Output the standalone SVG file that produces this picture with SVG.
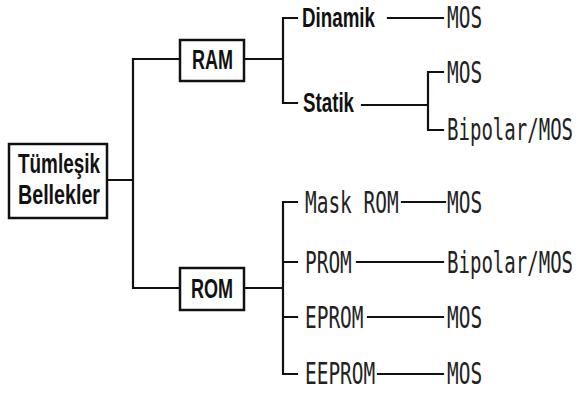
<svg xmlns="http://www.w3.org/2000/svg" width="578" height="396" viewBox="0 0 578 396">
<style>
.box{fill:#fff;stroke:#111;stroke-width:2.5}
.ln{fill:none;stroke:#111;stroke-width:2.2;stroke-linecap:square}
.b{font-family:"Liberation Sans",Arial,sans-serif;font-weight:bold;font-size:27px;fill:#111}
.m{font-family:"DejaVu Sans Mono","Liberation Mono",monospace;font-size:30px;fill:#222}
</style>
<rect width="578" height="396" fill="#fff"/>
<g id="connectors">
<path class="ln" d="M107 180H133M133 59V288M133 59H180M133 288H180"/>
<path class="ln" d="M244 59H283M283 18V103M283 18H297M283 103H297"/>
<path class="ln" d="M244 288H283M283 202V374M283 202H297M283 262H297M283 317H297M283 374H297"/>
<path class="ln" d="M388 18H443"/>
<path class="ln" d="M362 105H428M428 72V130M428 72H443M428 130H443"/>
<path class="ln" d="M402 202H445M357 262H443M368 317H443M378 374H443"/>
</g>
<g id="tumlesik">
<rect class="box" x="9" y="144" width="98" height="74"/>
<text class="b" x="18" y="173" textLength="82" lengthAdjust="spacingAndGlyphs">Tümleşik</text>
<text class="b" x="18" y="204" textLength="82" lengthAdjust="spacingAndGlyphs">Bellekler</text>
</g>
<g id="ram">
<rect class="box" x="180" y="40" width="64" height="41"/>
<text class="b" x="192" y="69" textLength="41" lengthAdjust="spacingAndGlyphs">RAM</text>
</g>
<g id="rom">
<rect class="box" x="180" y="268" width="64" height="42"/>
<text class="b" x="191" y="298" textLength="42" lengthAdjust="spacingAndGlyphs">ROM</text>
</g>
<g id="dinamik"><text class="b" x="302" y="27" textLength="73" lengthAdjust="spacingAndGlyphs">Dinamik</text></g>
<g id="statik"><text class="b" x="303" y="112" textLength="51" lengthAdjust="spacingAndGlyphs">Statik</text></g>
<g id="dinamik-mos"><text class="m" transform="translate(447,28) scale(0.648,1)">MOS</text></g>
<g id="statik-mos"><text class="m" transform="translate(447,83) scale(0.648,1)">MOS</text></g>
<g id="statik-bipolar"><text class="m" transform="translate(447,140) scale(0.635,1)">Bipolar/MOS</text></g>
<g id="maskrom"><text class="m" transform="translate(305,213) scale(0.648,1)">Mask ROM</text></g>
<g id="maskrom-mos"><text class="m" transform="translate(447,213) scale(0.648,1)">MOS</text></g>
<g id="prom"><text class="m" transform="translate(305,273) scale(0.648,1)">PROM</text></g>
<g id="prom-bipolar"><text class="m" transform="translate(447,273) scale(0.635,1)">Bipolar/MOS</text></g>
<g id="eprom"><text class="m" transform="translate(305,328) scale(0.648,1)">EPROM</text></g>
<g id="eprom-mos"><text class="m" transform="translate(447,328) scale(0.648,1)">MOS</text></g>
<g id="eeprom"><text class="m" transform="translate(305,384) scale(0.648,1)">EEPROM</text></g>
<g id="eeprom-mos"><text class="m" transform="translate(447,384) scale(0.648,1)">MOS</text></g>
</svg>
